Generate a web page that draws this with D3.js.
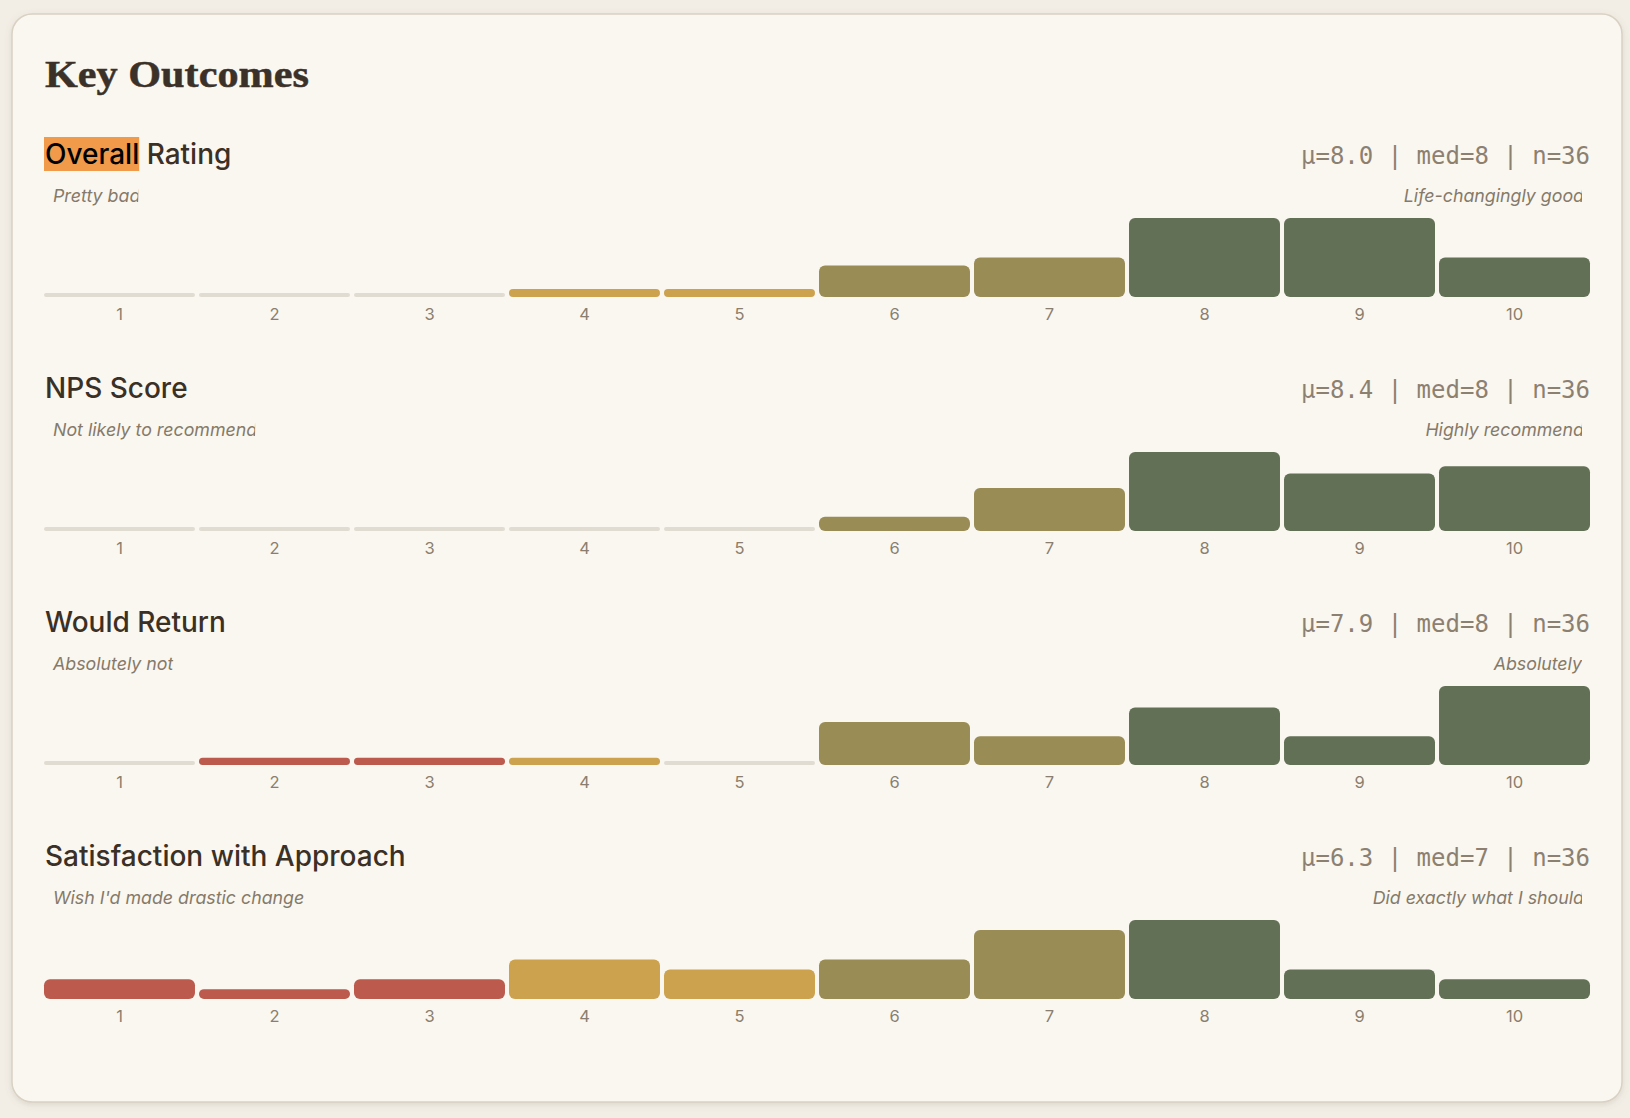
<!DOCTYPE html>
<html>
<head>
<meta charset="utf-8">
<script src="https://cdn.jsdelivr.net/npm/d3@7"></script>
<style>
  body { margin: 0; background: #f2eee6; }
  svg { display: block; }
</style>
</head>
<body>
<div id="chart"></div>
<script>
// Chart data
var scaleValues = [1, 2, 3, 4, 5, 6, 7, 8, 9, 10];
var metricTitles = ["Overall Rating", "NPS Score", "Would Return", "Satisfaction with Approach"];
var lowLabels = ["Pretty bad", "Not likely to recommend", "Absolutely not", "Wish I'd made drastic change"];
var highLabels = ["Life-changingly good", "Highly recommend", "Absolutely", "Did exactly what I should"];
var overallCounts = [0, 0, 0, 1, 1, 4, 5, 10, 10, 5];
var npsCounts = [0, 0, 0, 0, 0, 2, 6, 11, 8, 9];
var returnCounts = [0, 1, 1, 1, 0, 6, 4, 8, 4, 11];
var satisfactionCounts = [2, 1, 2, 4, 3, 4, 7, 8, 3, 2];
var allCounts = [overallCounts, npsCounts, returnCounts, satisfactionCounts];

// SVG area dimensions
var svgWidth = 1630;
var svgHeight = 1118;

var left = 44, right = 1590;
var sectionTop = 164;      // baseline of first section title
var sectionStep = 234;
var barOffset = 133;       // from title baseline to bar baseline
var barMax = 79;

var svg = d3.select("#chart")
  .append("svg")
  .attr("width", svgWidth)
  .attr("height", svgHeight);

var defs = svg.append("defs");
defs.append("filter")
  .attr("id", "shadow")
  .attr("x", "-5%").attr("y", "-5%").attr("width", "110%").attr("height", "110%")
  .append("feDropShadow")
  .attr("dx", 0).attr("dy", 2)
  .attr("stdDeviation", 3)
  .attr("flood-color", "#7a6a50")
  .attr("flood-opacity", 0.18);

// card
svg.append("rect")
  .attr("x", 12).attr("y", 14)
  .attr("width", 1610).attr("height", 1088)
  .attr("rx", 20)
  .attr("fill", "#faf7f0")
  .attr("stroke", "#d8d1c4")
  .attr("stroke-width", 1.5)
  .attr("filter", "url(#shadow)");

var heading = svg.append("text")
  .attr("x", 0).attr("y", 0)
  .attr("font-family", "'Liberation Serif', 'DejaVu Serif', serif")
  .attr("font-weight", 700)
  .attr("font-size", 39)
  .attr("fill", "#3b3128")
  .attr("stroke", "#3b3128")
  .attr("stroke-width", 0.5)
  .text("Key Outcomes");
// stretch a bit to get the wider serif of the original
var hw = heading.node().getComputedTextLength();
heading.attr("transform", "translate(45,87) scale(" + (264 / hw) + ",1)");

var xScale = d3.scaleBand()
  .domain(scaleValues)
  .range([left, right])
  .paddingInner(0.026);

var colorScale = d3.scaleThreshold()
  .domain([4, 6, 8])
  .range(["#bb5a4d", "#cda24e", "#998c55", "#627055"]);

allCounts.forEach(function(counts, i) {
  var base = sectionTop + i * sectionStep;
  var g = svg.append("g");

  // title
  var title = g.append("text")
    .attr("x", 45).attr("y", base)
    .attr("font-family", "Inter, sans-serif")
    .attr("font-weight", 500)
    .attr("font-size", 28)
    .attr("fill", "#3a3026");

  if (i === 0) {
    var words = metricTitles[i].split(" ");
    var hl = g.insert("rect", "text");
    var first = title.append("tspan").attr("fill", "#000").text(words[0]);
    title.append("tspan").text(" " + words.slice(1).join(" "));
    var w = first.node().getComputedTextLength();
    hl.attr("x", 44).attr("y", base - 27)
      .attr("width", w + 1).attr("height", 34)
      .attr("fill", "#f09a4a");
  } else {
    title.text(metricTitles[i]);
  }

  // stats
  var n = d3.sum(counts);
  var mean = d3.sum(counts, (c, k) => c * scaleValues[k]) / n;
  var expanded = [];
  counts.forEach((c, k) => { for (var j = 0; j < c; j++) expanded.push(scaleValues[k]); });
  var med = d3.median(expanded);

  g.append("text")
    .attr("x", right).attr("y", base)
    .attr("text-anchor", "end")
    .attr("font-family", "'DejaVu Sans Mono', monospace")
    .attr("font-size", 24)
    .attr("fill", "#8c8070")
    .text("\u03bc=" + mean.toFixed(1) + " | med=" + med + " | n=" + n);

  // end labels; italic "d" overhangs its box and gets cut
  var labY = base + 38;
  function cut(s) { return /d$/.test(s) ? 2 : 0; }

  var lowText = g.append("text")
    .attr("x", 53).attr("y", labY)
    .attr("font-family", "Inter, sans-serif")
    .attr("font-style", "italic")
    .attr("font-size", 17.8)
    .attr("fill", "#857a6a")
    .text(lowLabels[i]);
  var lowLen = lowText.node().getComputedTextLength();
  defs.append("clipPath").attr("id", "clipL" + i)
    .append("rect")
    .attr("x", 33).attr("y", labY - 30)
    .attr("width", lowLen + 20 - cut(lowLabels[i])).attr("height", 40);
  lowText.attr("clip-path", "url(#clipL" + i + ")");

  var highText = g.append("text")
    .attr("x", right - 8 + cut(highLabels[i])).attr("y", labY)
    .attr("text-anchor", "end")
    .attr("font-family", "Inter, sans-serif")
    .attr("font-style", "italic")
    .attr("font-size", 17.8)
    .attr("fill", "#857a6a")
    .text(highLabels[i]);
  defs.append("clipPath").attr("id", "clipH" + i)
    .append("rect")
    .attr("x", right - 8 - 600).attr("y", labY - 30)
    .attr("width", 600).attr("height", 40);
  highText.attr("clip-path", "url(#clipH" + i + ")");

  // bars
  var barBase = base + barOffset;
  var yScale = d3.scaleLinear()
    .domain([0, d3.max(counts)])
    .range([0, barMax]);

  var data = scaleValues.map((v, k) => ({ v: v, c: counts[k] }));

  g.selectAll(".bar")
    .data(data)
    .enter()
    .append("rect")
    .attr("class", "bar")
    .attr("x", d => xScale(d.v))
    .attr("width", xScale.bandwidth())
    .attr("y", d => barBase - (d.c ? yScale(d.c) : 4))
    .attr("height", d => d.c ? yScale(d.c) : 4)
    .attr("rx", d => Math.min(6, (d.c ? yScale(d.c) : 4) / 2))
    .attr("fill", d => d.c ? colorScale(d.v) : "#e1dcd2");

  // tick labels
  var axis = d3.axisBottom(xScale).tickSize(0).tickPadding(0);
  var ax = g.append("g")
    .attr("transform", "translate(0," + (barBase + 23) + ")")
    .call(axis);
  ax.select(".domain").remove();
  ax.selectAll("text")
    .attr("dy", 0)
    .attr("y", 0)
    .attr("font-family", "Inter, sans-serif")
    .attr("font-size", 16.5)
    .attr("fill", "#8a7f6e");
});
</script>
</body>
</html>
